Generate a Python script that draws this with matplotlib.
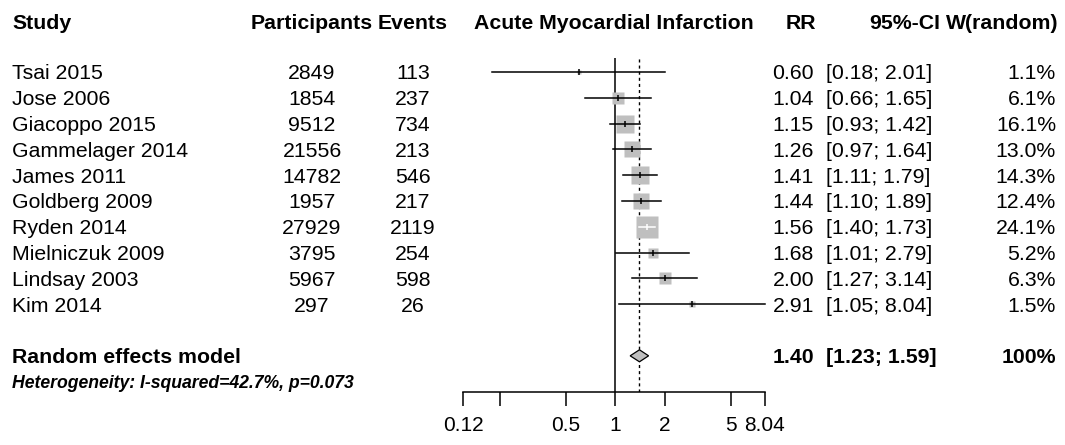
import numpy as np
import matplotlib
matplotlib.use("Agg")
import matplotlib.pyplot as plt
from matplotlib.transforms import blended_transform_factory
from matplotlib.patches import Polygon

plt.rcParams['font.family'] = ['Liberation Sans', 'DejaVu Sans']

studies = ["Tsai 2015", "Jose 2006", "Giacoppo 2015", "Gammelager 2014", "James 2011",
           "Goldberg 2009", "Ryden 2014", "Mielniczuk 2009", "Lindsay 2003", "Kim 2014"]
participants = [2849, 1854, 9512, 21556, 14782, 1957, 27929, 3795, 5967, 297]
events = [113, 237, 734, 213, 546, 217, 2119, 254, 598, 26]
rr = [0.60, 1.04, 1.15, 1.26, 1.41, 1.44, 1.56, 1.68, 2.00, 2.91]
ci_lo = [0.18, 0.66, 0.93, 0.97, 1.11, 1.10, 1.40, 1.01, 1.27, 1.05]
ci_hi = [2.01, 1.65, 1.42, 1.64, 1.79, 1.89, 1.73, 2.79, 3.14, 8.04]
weights = [1.1, 6.1, 16.1, 13.0, 14.3, 12.4, 24.1, 5.2, 6.3, 1.5]

pooled = 1.40
pooled_lo = 1.23
pooled_hi = 1.59
heterogeneity = "Heterogeneity: I-squared=42.7%, p=0.073"

xticks = [0.12, 0.2, 0.5, 1, 2, 5, 8.04]
xticklabels = ["0.12", "", "0.5", "1", "2", "5", "8.04"]

W, H = 1065, 445
fig = plt.figure(figsize=(W / 100, H / 100), dpi=100)

# forest panel placed in pixel terms
ax_l, ax_r, ax_t, ax_b = 463, 765, 58, 392
ax = fig.add_axes([ax_l / W, 1 - ax_b / H, (ax_r - ax_l) / W, (ax_b - ax_t) / H])
row0, step = 72, 25.8
ax.set_xscale("log")
ax.set_xlim(xticks[0], xticks[-1])
ax.set_ylim((ax_b - row0) / step, (ax_t - row0) / step)

for s in ["top", "right", "left"]:
    ax.spines[s].set_visible(False)
ax.spines["bottom"].set_linewidth(1.1)
ax.set_yticks([])
ax.set_xticks(xticks)
ax.set_xticklabels(xticklabels, fontsize=15)
ax.minorticks_off()
ax.tick_params(axis="x", length=10, width=1.1, pad=7)

ax.axvline(1, color="black", lw=1.1, zorder=1)
ax.axvline(pooled, color="black", lw=1.0, ls=(0, (2.2, 2.2)), zorder=1)

px_per_ln = (ax_r - ax_l) / np.log(xticks[-1] / xticks[0])
for i in range(len(studies)):
    side_px = 4.6 * np.sqrt(weights[i])
    half = np.exp(side_px / 2 / px_per_ln)
    inside = ci_lo[i] >= rr[i] / half and ci_hi[i] <= rr[i] * half
    col = "white" if inside else "black"
    ax.plot(rr[i], i, marker="s", ms=side_px * 0.72, color="#bfbfbf", mec="none", zorder=2)
    ax.plot([ci_lo[i], ci_hi[i]], [i, i], color=col, lw=1.1, zorder=3, clip_on=False)
    ax.plot(rr[i], i, marker="|", ms=5, mew=1.1, color=col, zorder=4)

h = 6 / step
diamond = Polygon([(pooled_lo, 11), (pooled, 11 - h), (pooled_hi, 11), (pooled, 11 + h)],
                  closed=True, facecolor="#bfbfbf", edgecolor="black", lw=0.9, zorder=3)
ax.add_patch(diamond)

tr = blended_transform_factory(fig.transFigure, ax.transData)
fs = 15.3


def put(x, y, s, ha="left", **kw):
    ax.text(x / W, y, s, ha=ha, va="center_baseline", transform=tr, fontsize=fs, clip_on=False, **kw)


hy = (21.5 - row0) / step
put(12, hy, "Study", weight="bold")
put(312, hy, "Participants", ha="center", weight="bold")
put(413, hy, "Events", ha="center", weight="bold")
put(614, hy, "Acute Myocardial Infarction", ha="center", weight="bold")
put(816, hy, "RR", ha="right", weight="bold")
put(940, hy, "95%-CI", ha="right", weight="bold")
put(1058, hy, "W(random)", ha="right", weight="bold")

for i in range(len(studies)):
    put(12, i, studies[i])
    put(312, i, str(participants[i]), ha="center")
    put(413, i, str(events[i]), ha="center")
    put(814, i, f"{rr[i]:.2f}", ha="right")
    put(826, i, f"[{ci_lo[i]:.2f}; {ci_hi[i]:.2f}]")
    put(1056, i, f"{weights[i]:.1f}%", ha="right")

put(12, 11, "Random effects model", weight="bold")
put(814, 11, f"{pooled:.2f}", ha="right", weight="bold")
put(826, 11, f"[{pooled_lo:.2f}; {pooled_hi:.2f}]", weight="bold")
put(1056, 11, "100%", ha="right", weight="bold")
ax.text(12 / W, 12.0, heterogeneity, ha="left", va="center_baseline", transform=tr,
        fontsize=12.7, weight="bold", style="italic", clip_on=False)

fig.savefig("out.png", dpi=100)
